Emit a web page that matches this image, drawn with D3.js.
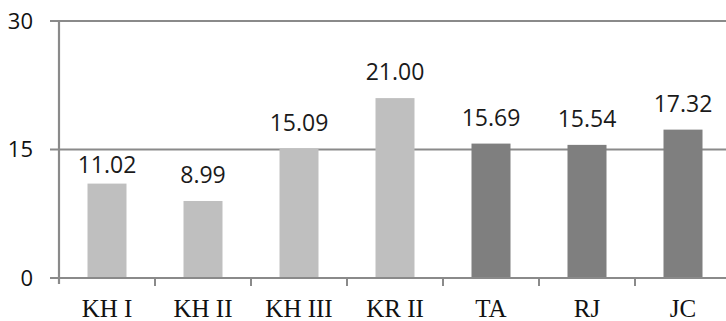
<!DOCTYPE html>
<html>
<head>
<meta charset="utf-8">
<script src="https://cdn.jsdelivr.net/npm/d3@7"></script>
<style>
  html, body { margin: 0; padding: 0; background: #fff; }
  svg { display: block; }
</style>
</head>
<body>
<svg id="chart" width="726" height="321"></svg>
<script>
// Site values and their group (light = KH/KR series, dark = TA/RJ/JC)
const categories = ["KH I", "KH II", "KH III", "KR II", "TA", "RJ", "JC"];
const values = [11.02, 8.99, 15.09, 21.00, 15.69, 15.54, 17.32];
const groups = ["light", "light", "light", "light", "dark", "dark", "dark"];
const yTicks = [0, 15, 30];

const W = 726, H = 321;
const plotLeft = 59, plotTop = 21, plotBottom = 278;
const axisColor = "#8a8a8a";
const fill = { light: "#bfbfbf", dark: "#7f7f7f" };

const svg = d3.select("#chart");

const x = d3.scaleBand().domain(categories).range([plotLeft, plotLeft + 96 * categories.length]).paddingInner(0).paddingOuter(0);
const y = d3.scaleLinear().domain([0, 30]).range([plotBottom, plotTop]);

// Horizontal gridlines with short outer tick marks
svg.append("g").selectAll("line").data(yTicks).join("line")
  .attr("x1", plotLeft - 9).attr("x2", W)
  .attr("y1", d => y(d)).attr("y2", d => y(d))
  .attr("stroke", axisColor).attr("stroke-width", 2.2);

// Y tick labels
svg.append("g").selectAll("text").data(yTicks).join("text")
  .attr("x", 33).attr("y", d => y(d))
  .attr("dy", "0.36em")
  .attr("text-anchor", "end")
  .attr("font-family", "'Open Sans', sans-serif")
  .attr("font-size", 22)
  .attr("fill", "#111")
  .text(d => d);

// Vertical axis line
svg.append("line")
  .attr("x1", plotLeft).attr("x2", plotLeft)
  .attr("y1", plotTop - 1).attr("y2", plotBottom + 6)
  .attr("stroke", axisColor).attr("stroke-width", 2.2);

// Category boundary ticks below the baseline
const boundaries = categories.slice(1).map(c => x(c));
svg.append("g").selectAll("line").data(boundaries).join("line")
  .attr("x1", d => d).attr("x2", d => d)
  .attr("y1", plotBottom).attr("y2", plotBottom + 8)
  .attr("stroke", axisColor).attr("stroke-width", 2);

// Bars
const barW = 39;
const data = categories.map((c, i) => ({ c, v: values[i], g: groups[i] }));
svg.append("g").selectAll("rect").data(data).join("rect")
  .attr("x", d => x(d.c) + x.bandwidth() / 2 - barW / 2)
  .attr("width", barW)
  .attr("y", d => y(d.v))
  .attr("height", d => y(0) - y(d.v))
  .attr("fill", d => fill[d.g]);

// Redraw baseline over the bar bottoms
svg.append("line")
  .attr("x1", plotLeft - 9).attr("x2", W)
  .attr("y1", plotBottom).attr("y2", plotBottom)
  .attr("stroke", axisColor).attr("stroke-width", 2.2);

// Value labels above bars; a label that would straddle a gridline
// is dropped just below that gridline instead.
const labelGap = 18, digitHeight = 16.5;
function labelBaseline(v) {
  let b = y(v) - labelGap;
  yTicks.forEach(t => {
    const g = y(t);
    if (b - digitHeight < g + 2 && b > g - 2) b = g + 7 + digitHeight;
  });
  return b;
}
svg.append("g").selectAll("text").data(data).join("text")
  .attr("x", d => x(d.c) + x.bandwidth() / 2)
  .attr("y", d => labelBaseline(d.v))
  .attr("text-anchor", "middle")
  .attr("font-family", "'Open Sans', sans-serif")
  .attr("font-size", 23)
  .attr("fill", "#1a1a1a")
  .text(d => d.v.toFixed(2));

// Category labels
svg.append("g").selectAll("text").data(categories).join("text")
  .attr("x", d => x(d) + x.bandwidth() / 2)
  .attr("y", 317)
  .attr("text-anchor", "middle")
  .attr("font-family", "'Liberation Serif', 'Times New Roman', serif")
  .attr("font-size", 25)
  .attr("fill", "#111")
  .text(d => d);
</script>
</body>
</html>
